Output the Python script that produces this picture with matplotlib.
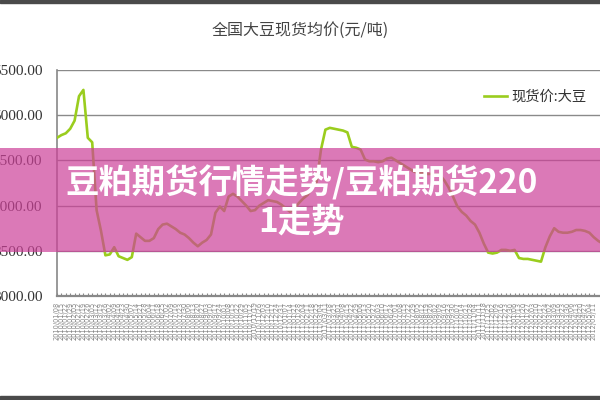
import matplotlib
matplotlib.use("Agg")
import matplotlib.pyplot as plt
import pandas as pd
from matplotlib.patches import Rectangle

plt.rcParams['font.family'] = ['Noto Sans CJK SC', 'DejaVu Sans']

title = "全国大豆现货均价(元/吨)"
series_name = "现货价:大豆"
overlay_text = "豆粕期货行情走势/豆粕期货220\n1走势"

# weekly spot price (yuan/ton)
prices = [4750, 4780, 4800, 4850, 4940, 5210, 5280, 4750, 4700, 3950,
          3720, 3450, 3460, 3540, 3440, 3420, 3400, 3430, 3690, 3650,
          3610, 3610, 3640, 3740, 3790, 3800, 3770, 3740, 3700, 3680,
          3640, 3590, 3550, 3590, 3620, 3680, 3920, 3990, 3940, 4100,
          4130, 4100, 4050, 4000, 3940, 3950, 4000, 4030, 4060, 4050,
          4040, 4010, 3970, 3930, 3970, 4030, 4080, 4120, 4200, 4260,
          4620, 4840, 4860, 4850, 4840, 4830, 4810, 4650, 4640, 4620,
          4510, 4490, 4490, 4480, 4490, 4520, 4530, 4500, 4470, 4440,
          4410, 4380, 4360, 4360, 4350, 4350, 4340, 4340, 4280, 4200,
          4100, 3990, 3930, 3890, 3830, 3790, 3700, 3580, 3480, 3470,
          3480, 3510, 3510, 3500, 3510, 3420, 3410, 3410, 3400, 3390,
          3380, 3540, 3660, 3750, 3710, 3700, 3700, 3710, 3730, 3730,
          3720, 3700, 3650, 3610, 3580, 3550]
dates = pd.date_range("2010-01-08", periods=len(prices), freq="7D").strftime("%Y/%m/%d").tolist()
n_labels = 123  # labels that fit inside the picture
y_ticks = [3000, 3500, 4000, 4500, 5000, 5500]

fig = plt.figure(figsize=(6, 4), dpi=100)
fig.patch.set_facecolor("white")
ax = fig.add_axes([57 / 600, 1 - 296 / 400, 130 * 4.4 / 600, 226 / 400])

x = list(range(len(prices)))
ax.plot(x, prices, color="#9acd1e", linewidth=1.9, label=series_name, zorder=3)

ax.set_ylim(3000, 5500)
ax.set_xlim(0, 130)
ax.set_yticks(y_ticks)
ax.set_yticklabels([f"{v:.2f}" for v in y_ticks], family="Liberation Serif",
                   fontsize=11, color="#333333")
ax.tick_params(axis="y", length=0, pad=10.5)
ax.yaxis.grid(True, color="#8a8a8a", linewidth=1.0)
ax.set_axisbelow(True)

ax.set_xticks(x[:n_labels])
ax.set_xticklabels(dates[:n_labels], rotation=90, fontsize=4.8, color="#888888",
                   family="DejaVu Sans")
ax.tick_params(axis="x", direction="in", length=2.5, width=0.8,
               color="#888888", pad=4)

for side in ["top", "right"]:
    ax.spines[side].set_visible(False)
ax.spines["left"].set_color("#888888")
ax.spines["left"].set_linewidth(1.2)
ax.spines["bottom"].set_color("#888888")
ax.spines["bottom"].set_linewidth(1.6)

fig.text(0.5, 1 - 30 / 400, title, ha="center", va="center",
         fontsize=11.5, color="#444444")

ax.legend(loc="center left", bbox_to_anchor=(471 / 600, 1 - 97 / 400),
          bbox_transform=fig.transFigure, frameon=False, fontsize=10.3,
          handlelength=1.6, handletextpad=0.3, labelcolor="#333333")

# dark frame edges of the screenshot
fig.patches.append(Rectangle((0, 1 - 3 / 400), 1, 3 / 400, transform=fig.transFigure,
                             color="#4a4a4a", zorder=10))
fig.patches.append(Rectangle((0, 0), 1, 4 / 400, transform=fig.transFigure,
                             color="#4a4a4a", zorder=10))

# pink banner with headline on top
fig.patches.append(Rectangle((0, 1 - 252 / 400), 1, 104 / 400, transform=fig.transFigure,
                             facecolor=(205 / 255, 65 / 255, 153 / 255), alpha=0.7,
                             edgecolor="none", zorder=20))
fig.text(0.503, 1 - 202 / 400, overlay_text, ha="center", va="center",
         fontsize=24, fontweight="bold", color="white", linespacing=1.2,
         zorder=30)

fig.savefig("out.png", dpi=100)
